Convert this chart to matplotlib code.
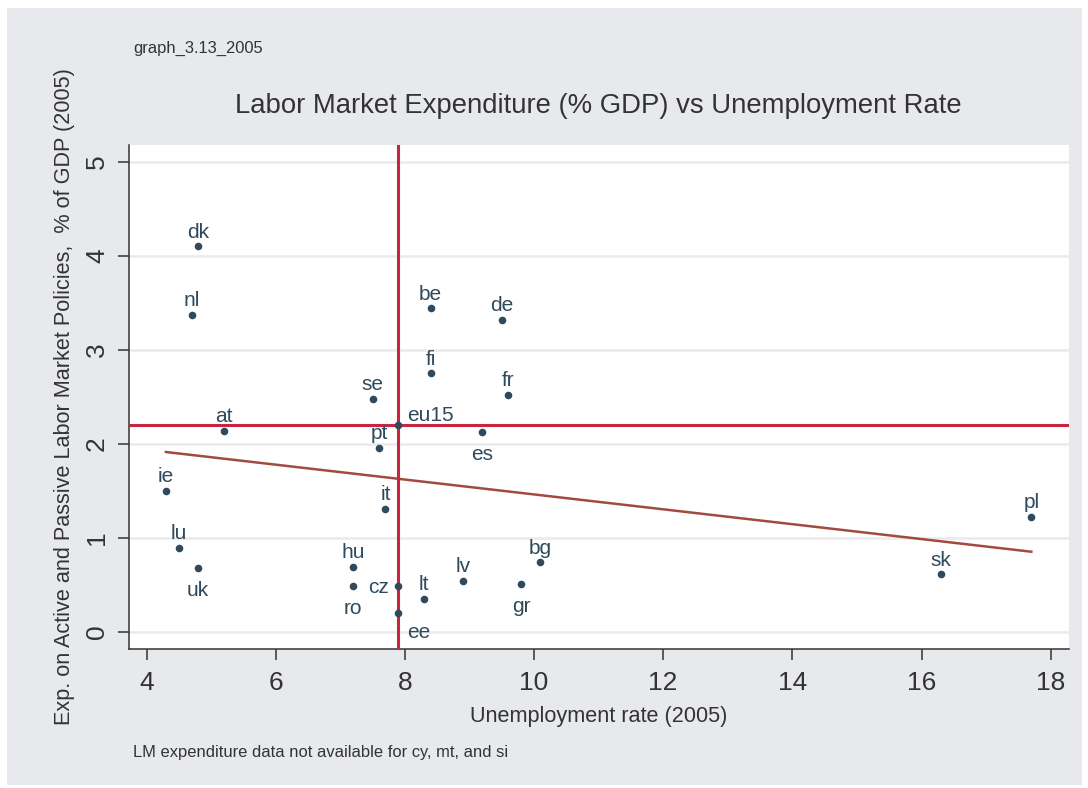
import numpy as np
import matplotlib
matplotlib.use('Agg')
import matplotlib.pyplot as plt
from matplotlib.patches import Rectangle

# countries, unemployment rate 2005, LM expenditure % GDP 2005
countries = ['dk', 'nl', 'at', 'ie', 'lu', 'uk', 'be', 'de', 'fi', 'fr', 'se', 'es',
             'pt', 'it', 'hu', 'ro', 'cz', 'lt', 'ee', 'lv', 'gr', 'bg', 'sk', 'pl']
unemp = [4.8, 4.7, 5.2, 4.3, 4.5, 4.8, 8.4, 9.5, 8.4, 9.6, 7.5, 9.2,
         7.6, 7.7, 7.2, 7.2, 7.9, 8.3, 7.9, 8.9, 9.8, 10.1, 16.3, 17.7]
lm_exp = [4.10, 3.37, 2.14, 1.50, 0.89, 0.68, 3.44, 3.32, 2.75, 2.52, 2.48, 2.13,
          1.96, 1.31, 0.69, 0.49, 0.49, 0.35, 0.20, 0.54, 0.51, 0.74, 0.61, 1.22]
# label position (Stata clock style)
label_pos = {'uk': 6, 'es': 6, 'ro': 6, 'gr': 6, 'ee': 5, 'cz': 9}

eu15_unemp = 7.9
eu15_exp = 2.20

x_ticks = [4, 6, 8, 10, 12, 14, 16, 18]
y_ticks = [0, 1, 2, 3, 4, 5]

BG = '#e8e9ec'
DOT = '#2e4a5c'
RED = '#c8263f'
FIT = '#a24a40'
TXT = '#333333'

plt.rcParams['font.family'] = ['Liberation Sans', 'DejaVu Sans']

fig = plt.figure(figsize=(10.88, 7.88), dpi=100, facecolor='white')
W, H = 1088, 788
fig.patches.append(Rectangle((7 / W, 3 / H), (1082 - 7) / W, (785 - 8) / H,
                             transform=fig.transFigure, facecolor=BG,
                             edgecolor='none', zorder=-10))

ax = fig.add_axes([128.5 / W, (H - 648.7) / H, 940.2 / W, (648.7 - 145) / H])
ax.set_facecolor('white')

ax.set_xlim(3.721, 18.279)
ax.set_ylim(-0.181, 5.18)

for yt in y_ticks:
    ax.axhline(yt, color='#eaeaea', lw=1.8, zorder=0)

# linear fit
coef = np.polyfit(unemp, lm_exp, 1)
fx = np.array([min(unemp), max(unemp)])
ax.plot(fx, np.polyval(coef, fx), color=FIT, lw=1.8, zorder=2)

ax.axvline(eu15_unemp, color=RED, lw=2.2, zorder=3)
ax.axhline(eu15_exp, color=RED, lw=2.2, zorder=3)

ax.scatter(unemp + [eu15_unemp], lm_exp + [eu15_exp], s=30, color=DOT,
           zorder=4, linewidths=0)

label_kw = dict(fontsize=15, color=DOT, textcoords='offset points', zorder=5)
for c, x, y in zip(countries, unemp, lm_exp):
    pos = label_pos.get(c, 12)
    if pos == 12:
        ax.annotate(c, (x, y), xytext=(0, 6.2), ha='center', va='baseline', **label_kw)
    elif pos == 6:
        ax.annotate(c, (x, y), xytext=(0, -20.5), ha='center', va='baseline', **label_kw)
    elif pos == 5:
        ax.annotate(c, (x, y), xytext=(6.3, -18), ha='left', va='baseline', **label_kw)
    elif pos == 9:
        ax.annotate(c, (x, y), xytext=(-6.5, -5.2), ha='right', va='baseline', **label_kw)
ax.annotate('eu15', (eu15_unemp, eu15_exp), xytext=(6.0, 2.9), ha='left',
            va='baseline', **label_kw)

ax.set_xticks(x_ticks)
ax.set_yticks(y_ticks)
ax.tick_params(axis='both', length=8, width=1.1, color=TXT, labelcolor=TXT,
               labelsize=19)
ax.tick_params(axis='x', pad=8)
ax.tick_params(axis='y', pad=6)
for lab in ax.get_yticklabels():
    lab.set_rotation(90)
    lab.set_va('center')

for side in ['top', 'right']:
    ax.spines[side].set_visible(False)
for side in ['left', 'bottom']:
    ax.spines[side].set_color(TXT)
    ax.spines[side].set_linewidth(1.1)

ax.set_xlabel('Unemployment rate (2005)', fontsize=15.6, color=TXT, labelpad=8)
ax.set_ylabel('Exp. on Active and Passive Labor Market Policies,  % of GDP (2005)',
              fontsize=15.6, color=TXT, labelpad=7.5)

fig.text(598.5 / W, 1 - 106 / H, 'Labor Market Expenditure (% GDP) vs Unemployment Rate',
         ha='center', va='center', fontsize=19.85, color=TXT)
fig.text(133 / W, 1 - 48 / H, 'graph_3.13_2005', ha='left', va='center',
         fontsize=11.9, color=TXT)
fig.text(133 / W, 1 - 752 / H, 'LM expenditure data not available for cy, mt, and si',
         ha='left', va='center', fontsize=11.9, color=TXT)

fig.savefig('out.png', dpi=100)
